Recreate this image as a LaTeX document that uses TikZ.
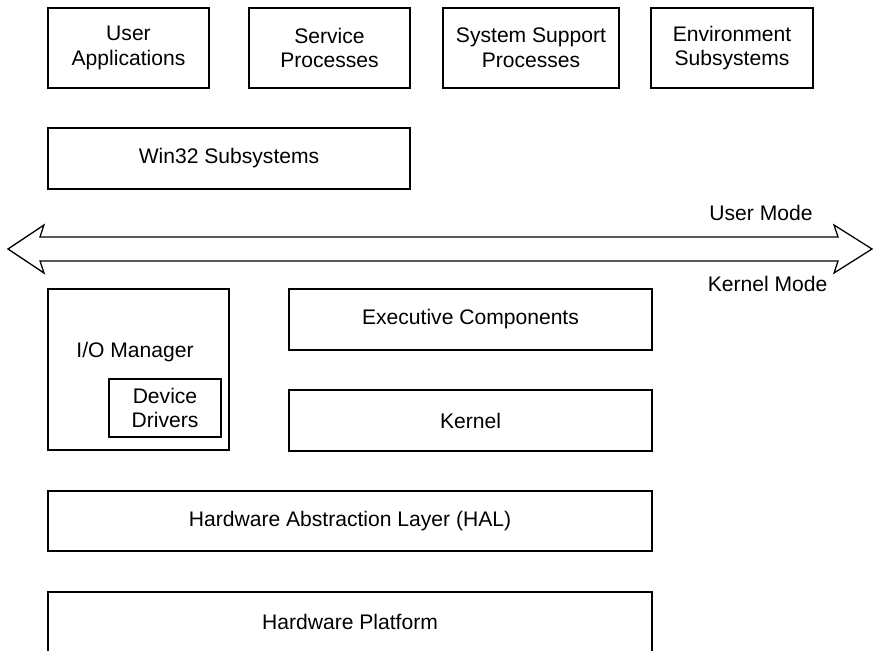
\documentclass[tikz,border=0pt]{standalone}
\usepackage{fontspec}
\setmainfont{Liberation Sans}
\usepackage{tikz}

\tikzset{
  layer/.style={draw, line width=0.9pt, align=center, inner sep=0pt,
    minimum height=1.5cm, font=\fontsize{15}{17.7}\selectfont},
  modelabel/.style={font=\fontsize{15}{17.7}\selectfont}
}

\begin{document}
\begin{tikzpicture}
        \useasboundingbox (0,0) rectangle (21.825,16.25);

        % Procesos de usuario
        \node[layer, minimum width=4.025cm, minimum height=2cm] (userapps) at (3.2125,15.05) {User\\Applications};
        \node[layer, minimum width=4.025cm, minimum height=2cm] (service) at (8.2375,15.05) {Service\\Processes};
        \node[layer, minimum width=4.4cm, minimum height=2cm] (syssupport) at (13.275,15.05) {System Support\\Processes};
        \node[layer, minimum width=4.05cm, minimum height=2cm] (environment) at (18.3,15.05) {Environment\\Subsystems};

        % Subsistema Win32
        \node[layer, minimum width=9.05cm, minimum height=1.525cm] (win32) at (5.725,12.2875) {Win32 Subsystems};

        % Frontera usuario / kernel
        \draw[line width=0.9pt, line join=miter]
            (0.2,10.025) -- (1.1,10.625) -- (1.0,10.325) -- (20.95,10.325) -- (20.85,10.625)
            -- (21.8,10.025) -- (20.85,9.425) -- (20.95,9.725) -- (1.0,9.725) -- (1.1,9.425) -- cycle;
        \node[modelabel] (usermode) at (19.025,10.925) {User Mode};
        \node[modelabel] (kernelmode) at (19.19,9.15) {Kernel Mode};

        % Modo kernel
        \node[layer, minimum width=4.525cm, minimum height=4.025cm] (iomanager) at (3.4625,7.0125) {};
        \node[modelabel] (iolabel) at (3.375,7.45) {I/O Manager};
        \node[layer, minimum width=2.8cm, minimum height=1.45cm] (drivers) at (4.125,6.05) {Device\\Drivers};
        \node[layer, minimum width=9.075cm, minimum height=1.525cm] (executive) at (11.7625,8.2625) {Executive Components};
        \node[layer, minimum width=9.075cm, minimum height=1.525cm] (kernel) at (11.7625,5.7375) {Kernel};

        % Hardware
        \node[layer, minimum width=15.1cm] (hal) at (8.75,3.225) {Hardware Abstraction Layer (HAL)};
        \node[layer, minimum width=15.1cm] (hardware) at (8.75,0.7) {Hardware Platform};
    \end{tikzpicture}
\end{document}
